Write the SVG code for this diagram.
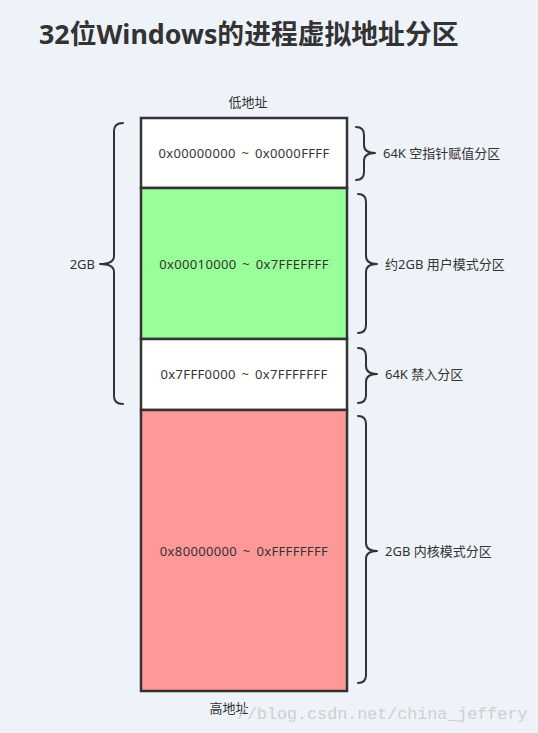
<svg xmlns="http://www.w3.org/2000/svg" width="538" height="733" viewBox="0 0 538 733">
<style>
.bg{fill:#EEF2F9}
.cell{stroke:#333;stroke-width:2.5}
.t{font-family:"Noto Sans","Noto Sans CJK SC",sans-serif;font-size:13px;fill:#333}
.c{text-anchor:middle;letter-spacing:0.35px;word-spacing:2px}
.title{font-family:"Noto Sans","Noto Sans CJK SC",sans-serif;font-size:26.8px;font-weight:bold;fill:#333}
.brace{fill:none;stroke:#333;stroke-width:2;stroke-linecap:round;stroke-linejoin:round}
.wm{font-family:"Liberation Mono",monospace;font-size:16.7px;fill:#CFCFCF}
</style>
<rect class="bg" x="0" y="0" width="538" height="733"/>
<text class="title" x="39" y="44">32位Windows的进程虚拟地址分区</text>
<text id="low" class="t" x="248" y="107" text-anchor="middle">低地址</text>
<g id="cell1"><rect class="cell" x="141" y="118" width="206" height="70" fill="#FFFFFF"/><text class="t c" x="244" y="158">0x00000000 ~ 0x0000FFFF</text></g>
<g id="cell2"><rect class="cell" x="141" y="188" width="206" height="151" fill="#99FF99"/><text class="t c" x="244" y="269">0x00010000 ~ 0x7FFEFFFF</text></g>
<g id="cell3"><rect class="cell" x="141" y="339" width="206" height="71" fill="#FFFFFF"/><text class="t c" x="244" y="379">0x7FFF0000 ~ 0x7FFFFFFF</text></g>
<g id="cell4"><rect class="cell" x="141" y="410" width="206" height="281" fill="#FF9999"/><text class="t c" x="244" y="556">0x80000000 ~ 0xFFFFFFFF</text></g>
<text id="high" class="t" x="229" y="713" text-anchor="middle">高地址</text>
<g id="connectors">
<path class="brace" d="M356,127 Q364,127 364,135 L364,145 Q364,153 375,153 Q364,153 364,161 L364,172 Q364,180 356,180"/>
<path class="brace" d="M358,194 Q366,194 366,202 L366,256 Q366,264 377,264 Q366,264 366,272 L366,325 Q366,333 358,333"/>
<path class="brace" d="M358,348 Q366,348 366,356 L366,366 Q366,374 377,374 Q366,374 366,382 L366,395 Q366,403 358,403"/>
<path class="brace" d="M358,416 Q366,416 366,424 L366,543 Q366,551 377,551 Q366,551 366,559 L366,675 Q366,683 358,683"/>
<path class="brace" d="M123,123 Q114,123 114,131 L114,256 Q114,264 100,264 Q114,264 114,272 L114,396 Q114,404 123,404"/>
</g>
<g id="label1"><text class="t" x="383" y="158">64K 空指针赋值分区</text></g>
<g id="label2"><text class="t" x="385" y="269">约2GB 用户模式分区</text></g>
<g id="label3"><text class="t" x="385" y="379">64K 禁入分区</text></g>
<g id="label4"><text class="t" x="385" y="556">2GB 内核模式分区</text></g>
<g id="label5"><text class="t" x="95" y="269" text-anchor="end">2GB</text></g>
<text class="wm" x="237" y="719">//blog.csdn.net/china_jeffery</text>
</svg>
